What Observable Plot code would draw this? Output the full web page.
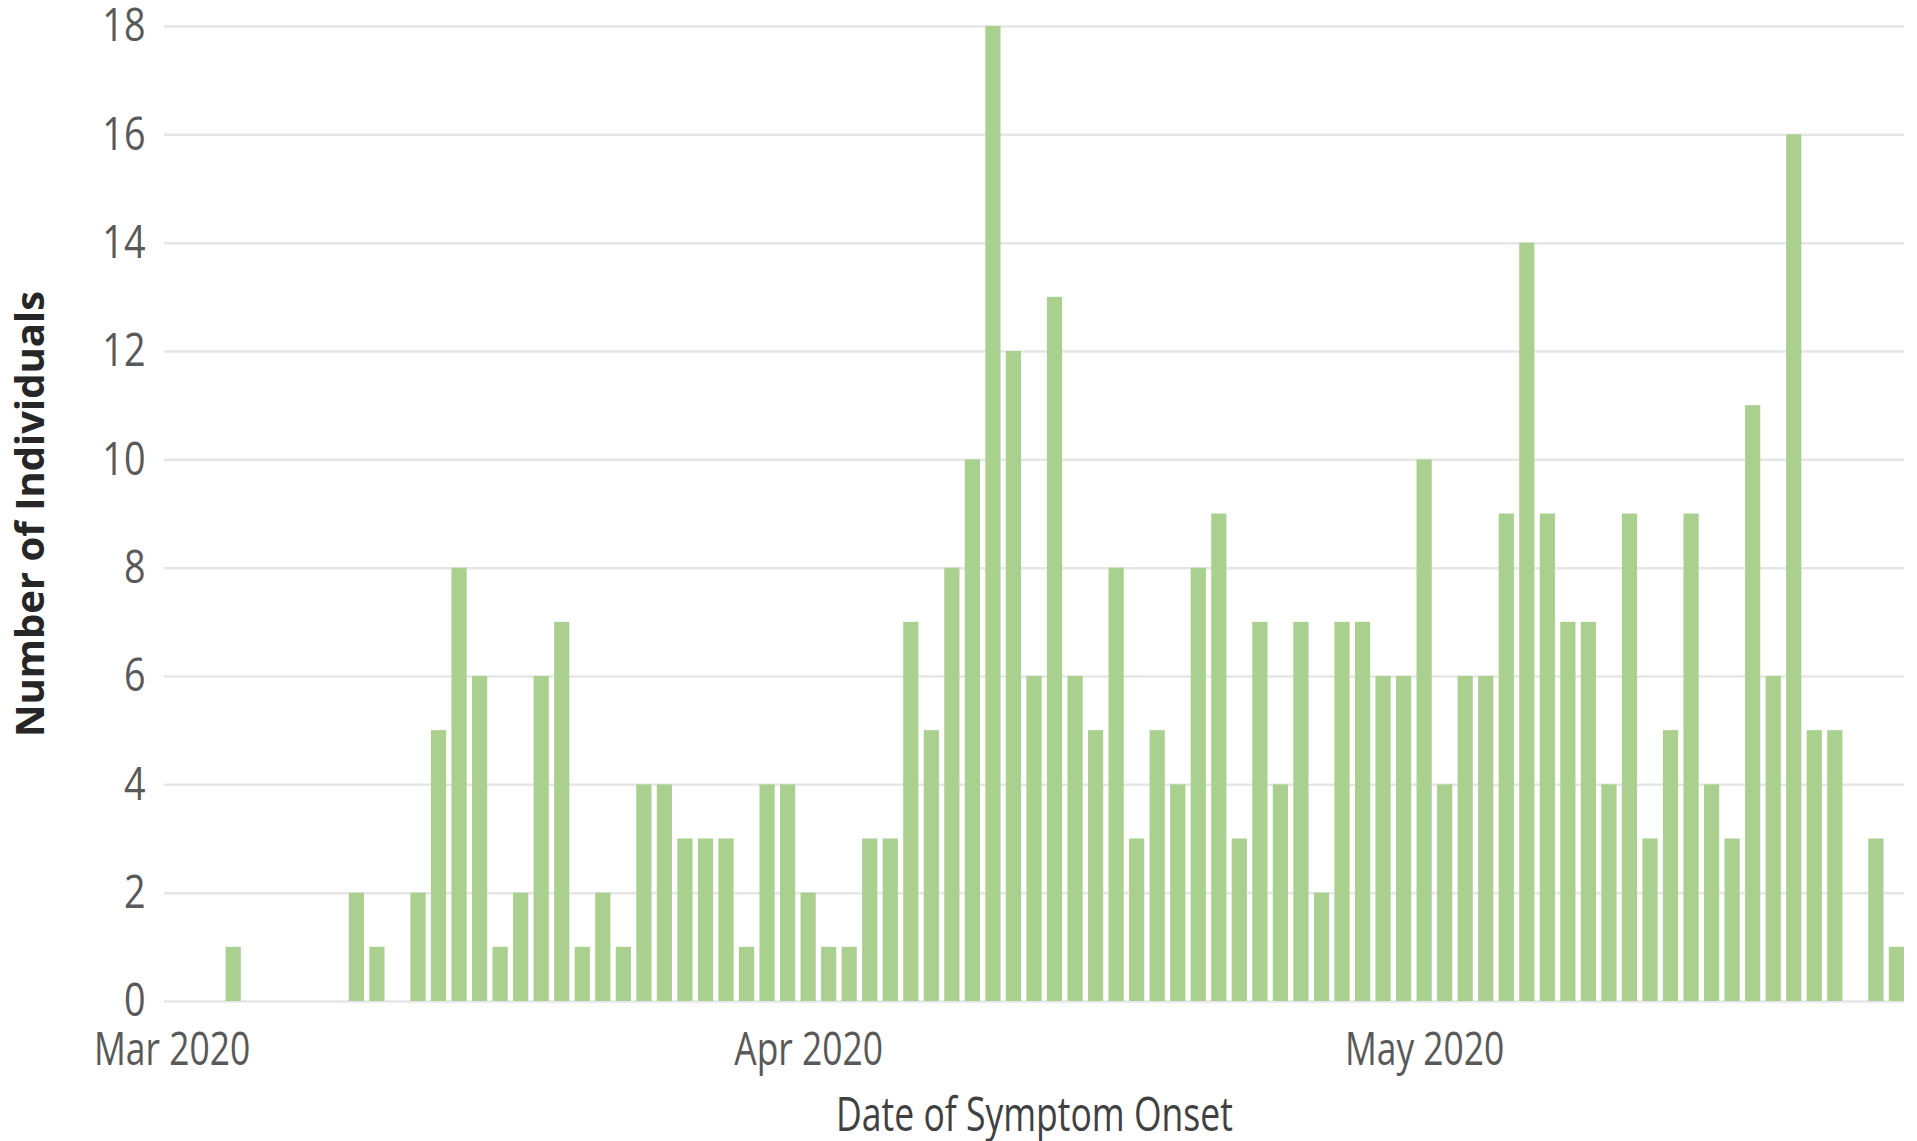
<!DOCTYPE html>
<html>
<head>
<meta charset="utf-8">
<script src="https://cdn.jsdelivr.net/npm/d3@7"></script>
<script src="https://cdn.jsdelivr.net/npm/@observablehq/plot@0.6"></script>
<style>
  html, body { margin: 0; padding: 0; background: #ffffff; }
  #chart { width: 1917px; height: 1141px; }
</style>
</head>
<body>
<div id="chart"></div>
<script>
// ---- Data ----
const startDate = "2020-03-01";
// Daily number of individuals by date of symptom onset, Mar 1 – May 24, 2020
const counts = [
  0, 0, 0, 1, 0, 0, 0, 0, 0, 2,        // Mar 1–10
  1, 0, 2, 5, 8, 6, 1, 2, 6, 7,        // Mar 11–20
  1, 2, 1, 4, 4, 3, 3, 3, 1, 4, 4,     // Mar 21–31
  2, 1, 1, 3, 3, 7, 5, 8, 10, 18,      // Apr 1–10
  12, 6, 13, 6, 5, 8, 3, 5, 4, 8,      // Apr 11–20
  9, 3, 7, 4, 7, 2, 7, 7, 6, 6,        // Apr 21–30
  10, 4, 6, 6, 9, 14, 9, 7, 7, 4,      // May 1–10
  9, 3, 5, 9, 4, 3, 11, 6, 16, 5,      // May 11–20
  5, 0, 3, 1                           // May 21–24
];
const monthTicks = ["2020-03-01", "2020-04-01", "2020-05-01"];
const yTicks = [0, 2, 4, 6, 8, 10, 12, 14, 16, 18];
const xTitle = "Date of Symptom Onset";
const yTitle = "Number of Individuals";

// ---- Build table ----
const start = new Date(startDate + "T00:00:00Z");
const days = counts.map((_, i) => d3.utcDay.offset(start, i));
const data = counts.map((c, i) => ({date: days[i], count: c}));
const tickDates = monthTicks.map(s => new Date(s + "T00:00:00Z"));

const chart = Plot.plot({
  width: 1917,
  height: 1141,
  marginLeft: 164,
  marginRight: 13,
  marginTop: 26,
  marginBottom: 140,
  style: {fontFamily: "'Open Sans', sans-serif", background: "#ffffff", overflow: "visible"},
  x: {type: "band", domain: days, paddingInner: 0.26, paddingOuter: 0, align: 0.5},
  y: {domain: [0, 18], nice: false},
  marks: [
    Plot.gridY(yTicks, {stroke: "#e6e6e6", strokeOpacity: 1, strokeWidth: 2.5}),
    Plot.barY(data.filter(d => d.count > 0), {x: "date", y: "count", fill: "#a9d08e"}),
    Plot.axisY({
      ticks: yTicks, tickSize: 0, tickPadding: 19, fontSize: 46, color: "#595959",
      label: null
    }),
    Plot.text([yTitle], {
      frameAnchor: "left", dx: -149, rotate: -90, textAnchor: "middle", lineAnchor: "top",
      fontSize: 40, fontWeight: "bold", fill: "#262626", ariaLabel: "y-title"
    }),
    Plot.axisX({
      ticks: tickDates, tickSize: 0, tickPadding: 31, fontSize: 46, color: "#595959",
      tickFormat: d3.utcFormat("%b %Y"), label: null
    }),
    Plot.axisX({
      ticks: [], tickSize: 0, label: xTitle, labelAnchor: "center", labelOffset: 129,
      fontSize: 48, color: "#404040"
    })
  ]
});

document.getElementById("chart").appendChild(chart);

// Narrow the glyphs horizontally, as in the reference rendering
function squeeze(label, sx, sy) {
  chart.querySelectorAll(`g[aria-label="${label}"] text`).forEach(t => {
    const tr = t.getAttribute("transform") || "";
    t.setAttribute("transform", tr + ` scale(${sx},${sy})`);
  });
}
squeeze("y-axis tick label", 0.82, 1);
squeeze("x-axis tick label", 0.77, 1);
squeeze("x-axis label", 0.74, 1);
squeeze("y-title", 1, 0.87);
</script>
</body>
</html>
